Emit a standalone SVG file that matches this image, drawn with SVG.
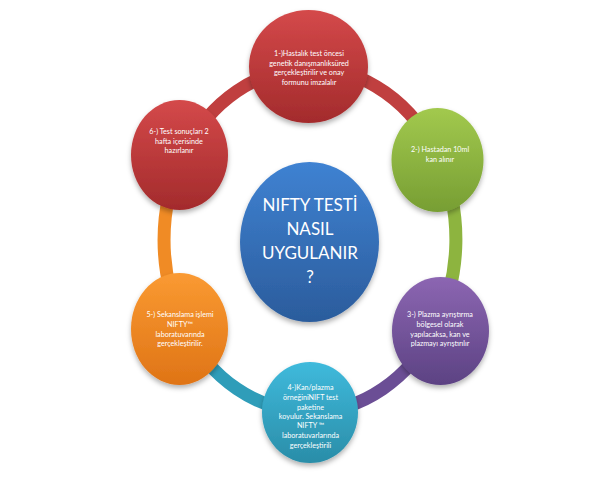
<svg xmlns="http://www.w3.org/2000/svg" width="599" height="478" viewBox="0 0 599 478">
<defs>
<linearGradient id="gRed" x1="0" y1="0" x2="0" y2="1"><stop offset="0" stop-color="#D4494A"/><stop offset="1" stop-color="#A32B2C"/></linearGradient>
<linearGradient id="gGreen" x1="0" y1="0" x2="0" y2="1"><stop offset="0" stop-color="#A2C94E"/><stop offset="1" stop-color="#779E33"/></linearGradient>
<linearGradient id="gPurple" x1="0" y1="0" x2="0" y2="1"><stop offset="0" stop-color="#8C66B2"/><stop offset="1" stop-color="#5C4283"/></linearGradient>
<linearGradient id="gCyan" x1="0" y1="0" x2="0" y2="1"><stop offset="0" stop-color="#3FBADC"/><stop offset="1" stop-color="#2A8DA8"/></linearGradient>
<linearGradient id="gOrange" x1="0" y1="0" x2="0" y2="1"><stop offset="0" stop-color="#FA9A32"/><stop offset="1" stop-color="#DF7416"/></linearGradient>
<linearGradient id="gBlue" x1="0" y1="0" x2="0" y2="1"><stop offset="0" stop-color="#3F82D2"/><stop offset="1" stop-color="#2B5C9C"/></linearGradient>
<filter id="sh" x="-20%" y="-20%" width="140%" height="150%"><feDropShadow dx="0" dy="3" stdDeviation="2.5" flood-color="#000" flood-opacity="0.3"/></filter>
</defs>
<style>
.band{fill:none;stroke-width:13}
.t{font-family:Lato,"Liberation Sans",sans-serif;font-size:7.2px;fill:#fff;text-anchor:middle}
.c{font-family:Lato,"Liberation Sans",sans-serif;font-size:17px;fill:#fff;text-anchor:middle}
</style>
<rect width="599" height="478" fill="#fff"/>
<g id="connectors">
<path class="band" stroke="#C03F3F" d="M310,68 A146,172 0 0 1 439,159"/>
<path class="band" stroke="#8DB43F" d="M439,159 A146,172 0 0 1 436,326"/>
<path class="band" stroke="#6B4E95" d="M436,326 A146,172 0 0 1 310,412"/>
<path class="band" stroke="#2F9DB9" d="M310,412 A146,172 0 0 1 183.6,326"/>
<path class="band" stroke="#F08B25" d="M183.6,326 A146,172 0 0 1 183.6,154"/>
<path class="band" stroke="#C03F3F" d="M183.6,154 A146,172 0 0 1 310,68"/>
</g>
<g id="center">
<ellipse cx="309.5" cy="242" rx="69.5" ry="80" fill="url(#gBlue)" filter="url(#sh)"/>
<text class="c" x="310" y="211">NIFTY TESTİ</text>
<text class="c" x="310" y="235">NASIL</text>
<text class="c" x="310" y="259">UYGULANIR</text>
<text class="c" x="310" y="283">?</text>
</g>
<g id="node1">
<ellipse cx="308.5" cy="66.5" rx="59.5" ry="56.5" fill="url(#gRed)" filter="url(#sh)"/>
<text class="t" x="309" y="56">1-)Hastalık test öncesi</text>
<text class="t" x="309" y="65.5">genetik danışmanlıksüred</text>
<text class="t" x="309" y="75">gerçekleştirilir ve onay</text>
<text class="t" x="309" y="84.5">formunu imzalalır</text>
</g>
<g id="node2">
<ellipse cx="437.5" cy="160" rx="46" ry="52" fill="url(#gGreen)" filter="url(#sh)"/>
<text class="t" x="440" y="152">2-) Hastadan 10ml</text>
<text class="t" x="440" y="162">kan alınır</text>
</g>
<g id="node3">
<ellipse cx="440.5" cy="331" rx="48.5" ry="54" fill="url(#gPurple)" filter="url(#sh)"/>
<text class="t" x="440" y="317">3-) Plazma ayrıştırma</text>
<text class="t" x="440" y="327">bölgesel olarak</text>
<text class="t" x="440" y="337">yapılacaksa, kan ve</text>
<text class="t" x="440" y="346">plazmayı ayrıştırılır</text>
</g>
<g id="node4">
<ellipse cx="310" cy="412.5" rx="48" ry="50.5" fill="url(#gCyan)" filter="url(#sh)"/>
<text class="t" x="310.5" y="390">4-)Kan/plazma</text>
<text class="t" x="310.5" y="400">örneğiniNIFT test</text>
<text class="t" x="310.5" y="410">paketine</text>
<text class="t" x="310.5" y="419">koyulur. Sekanslama</text>
<text class="t" x="310.5" y="428">NIFTY ™</text>
<text class="t" x="310.5" y="438">laboratuvarlarında</text>
<text class="t" x="310.5" y="448">gerçekleştirili</text>
</g>
<g id="node5">
<ellipse cx="179.5" cy="329" rx="48.5" ry="56" fill="url(#gOrange)" filter="url(#sh)"/>
<text class="t" x="180" y="317">5-) Sekanslama işlemi</text>
<text class="t" x="180" y="327">NIFTY™</text>
<text class="t" x="180" y="337">laboratuvarında</text>
<text class="t" x="180" y="346">gerçekleştirilir.</text>
</g>
<g id="node6">
<ellipse cx="179.5" cy="155" rx="48.5" ry="55" fill="url(#gRed)" filter="url(#sh)"/>
<text class="t" x="179" y="134">6-) Test sonuçları 2</text>
<text class="t" x="179" y="143.5">hafta içerisinde</text>
<text class="t" x="179" y="153">hazırlanır</text>
</g>
</svg>
